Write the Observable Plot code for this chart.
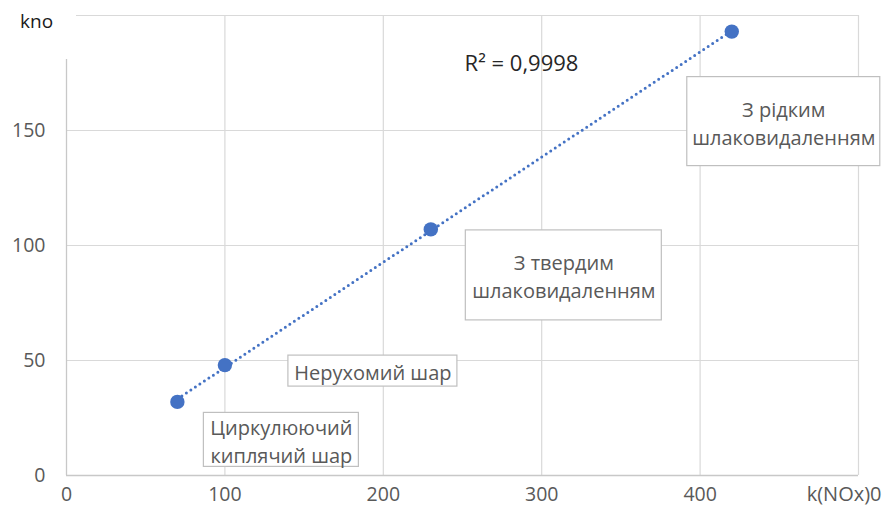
<!DOCTYPE html>
<html><head><meta charset="utf-8">
<script src="https://cdn.jsdelivr.net/npm/d3@7"></script>
<script src="https://cdn.jsdelivr.net/npm/@observablehq/plot@0.6"></script>
<style>
html,body{margin:0;padding:0;background:#fff;}
#wrap{position:relative;width:882px;height:509px;overflow:hidden;font-family:"Open Sans",sans-serif;}
#kno{position:absolute;left:0;top:0;width:76px;height:59px;background:#fff;color:#1a1a1a;font-size:19px;line-height:1;}
#kno span{position:absolute;left:20px;top:12px;}
</style></head><body>
<div id="wrap"><div id="chart"></div><div id="kno"><span id="knotext"></span></div></div>
<script>
// ---- data ----
const categories = ["Циркулюючий\nкиплячий шар", "Нерухомий шар", "З твердим\nшлаковидаленням", "З рідким\nшлаковидаленням"];
const xValues = [70, 100, 230, 420];
const yValues = [32, 48, 107, 193];
const xTicks = [0, 100, 200, 300, 400];
const yTicks = [0, 50, 100, 150];
const xGrid = [100, 200, 300, 400, 500];
const yGrid = [50, 100, 150, 200];
const r2Label = "R² = 0,9998";
const xLabel = "k(NOx)0";
const yLabel = "kno";

// ---- layout (label offsets from their points and box sizes, px) ----
const labelLayout = [
  {dx: 104, dy: 38, w: 155, h: 54},
  {dx: 148, dy: 6, w: 169, h: 31},
  {dx: 133, dy: 46, w: 196, h: 90},
  {dx: 52, dy: 90, w: 193, h: 89}
];

const rows = categories.map((c, i) => ({name: c, x: xValues[i], y: yValues[i], ...labelLayout[i]}));
const blue = "#4472C4";
const grid = "#d9d9d9";

// custom mark: white boxes with grey border behind the point labels, placed via Plot's scales
function labelBoxes(index, scales) {
  const g = d3.create("svg:g").attr("aria-label", "label-boxes");
  rows.forEach(r => {
    const cx = scales.x(r.x) + r.dx, cy = scales.y(r.y) + r.dy;
    g.append("rect")
      .attr("x", cx - r.w / 2).attr("y", cy - r.h / 2)
      .attr("width", r.w).attr("height", r.h)
      .attr("fill", "#fff").attr("stroke", "#bfbfbf").attr("stroke-width", 1.2);
  });
  return g.node();
}

const plot = Plot.plot({
  width: 882,
  height: 509,
  marginLeft: 66,
  marginRight: 24,
  marginTop: 15,
  marginBottom: 34,
  style: {fontFamily: "Open Sans, sans-serif", fontSize: "19px", color: "#595959", background: "#fff", overflow: "visible"},
  x: {domain: [0, 500]},
  y: {domain: [0, 200]},
  marks: [
    Plot.ruleX(xGrid, {stroke: grid, strokeWidth: 1.2}),
    Plot.ruleY(yGrid, {stroke: grid, strokeWidth: 1.2}),
    Plot.ruleX([0], {stroke: "#c8c8c8", strokeWidth: 1.3}),
    Plot.ruleY([0], {stroke: "#c8c8c8", strokeWidth: 1.3}),
    Plot.axisX(xTicks, {tickSize: 0, tickPadding: 12, label: null, fontSize: 19.5, fill: "#595959"}),
    Plot.axisY(yTicks, {tickSize: 0, tickPadding: 21, label: null, fontSize: 19.5, fill: "#595959"}),
    Plot.linearRegressionY(rows, {x: "x", y: "y", ci: 0, stroke: blue, strokeWidth: 3, strokeDasharray: "0 5.4", strokeLinecap: "round"}),
    Plot.dot(rows, {x: "x", y: "y", r: 7.2, fill: blue, stroke: "none"}),
    labelBoxes,
    ...rows.map(r => Plot.text([r], {x: "x", y: "y", text: "name", dx: r.dx, dy: r.dy, fill: "#595959", fontSize: 20, lineHeight: 1.4, lineAnchor: "middle", textAnchor: "middle"})),
    Plot.text([r2Label], {frameAnchor: "top", dx: 59, dy: 48, fill: "#262626", fontSize: 22, lineAnchor: "middle"}),
    Plot.text([xLabel], {frameAnchor: "bottom-right", dx: 23, dy: 19, textAnchor: "end", lineAnchor: "middle", fill: "#595959", fontSize: 20})
  ]
});
document.getElementById("chart").appendChild(plot);
document.getElementById("knotext").textContent = yLabel;
</script>
</body></html>
